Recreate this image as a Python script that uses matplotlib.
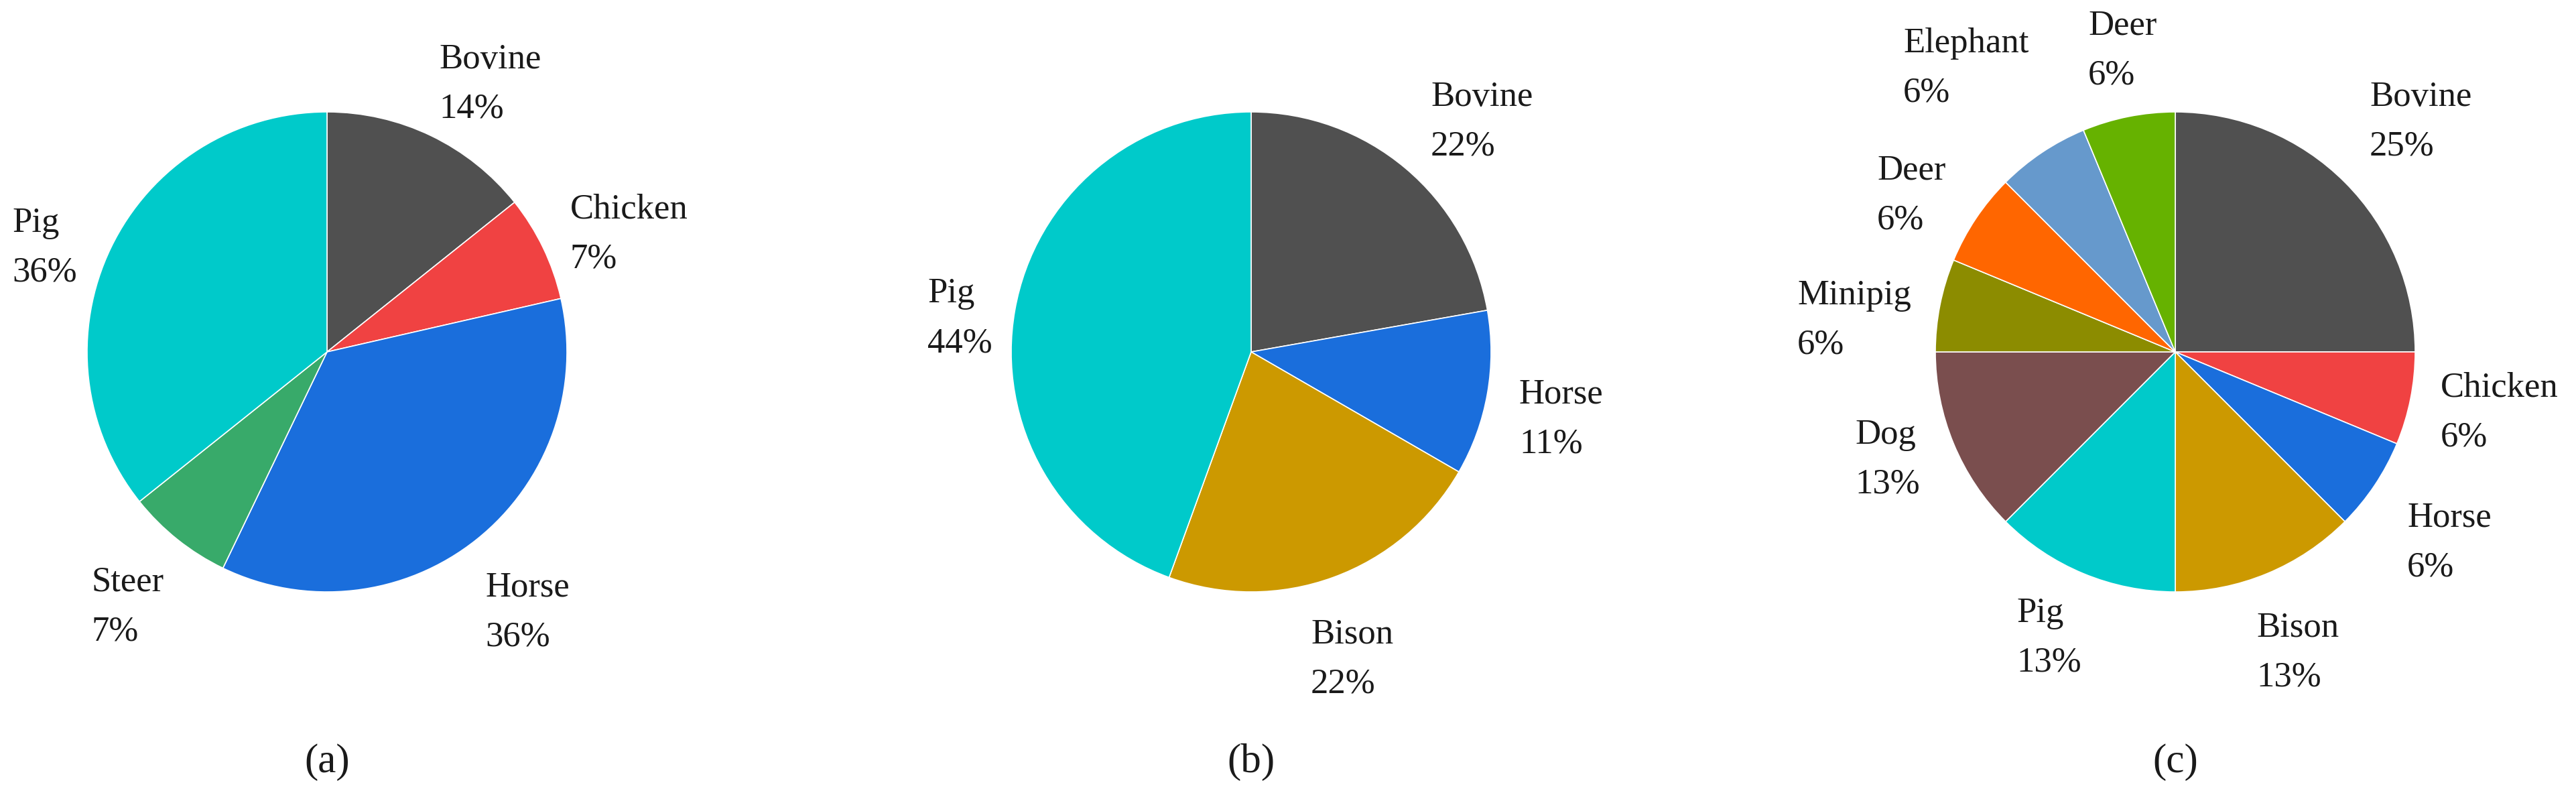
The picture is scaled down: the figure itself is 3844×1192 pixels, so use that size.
import matplotlib
matplotlib.use("Agg")
from matplotlib import pyplot as plt

# figure is laid out in pixels (dpi 100): x to the right, y measured from the top
W, H = 3844, 1192
R = 358

GRAY = "#505050"
RED = "#F04242"
BLUE = "#1A6EDC"
GREEN = "#38AA6A"
CYAN = "#00CACA"
GOLD = "#CC9900"
BROWN = "#7A4E4E"
OLIVE = "#8C8C00"
ORANGE = "#FF6600"
STEEL = "#6699CC"
LIME = "#66B200"

# (a)
a_names = ["Bovine", "Chicken", "Horse", "Steer", "Pig"]
a_counts = [2, 1, 5, 1, 5]
a_pct = [14, 7, 36, 7, 36]
a_colors = [GRAY, RED, BLUE, GREEN, CYAN]

# (b)
b_names = ["Bovine", "Horse", "Bison", "Pig"]
b_counts = [2, 1, 2, 4]
b_pct = [22, 11, 22, 44]
b_colors = [GRAY, BLUE, GOLD, CYAN]

# (c)
c_names = ["Bovine", "Chicken", "Horse", "Bison", "Pig", "Dog",
           "Minipig", "Deer", "Elephant", "Deer"]
c_counts = [4, 1, 1, 2, 2, 2, 1, 1, 1, 1]
c_pct = [25, 6, 6, 13, 13, 13, 6, 6, 6, 6]
c_colors = [GRAY, RED, BLUE, GOLD, CYAN, BROWN, OLIVE, ORANGE, STEEL, LIME]

# layout: pie centres and label anchors (left edge, baseline of the name)
centers = [(488, 525), (1867, 525), (3246, 525)]
a_label_xy = [(655, 102), (851, 326), (724, 890), (137, 881), (18, 346)]
b_label_xy = [(2135, 158), (2267, 601), (1956, 960), (1384, 451)]
c_label_xy = [(3536, 158), (3642, 591), (3592, 785), (3367, 949), (3009, 928),
              (2768, 662), (2682, 454), (2801, 268), (2840, 78), (3116, 51)]
LINE_GAP = 74

panels = [
    (a_names, a_counts, a_pct, a_colors, a_label_xy, "(a)"),
    (b_names, b_counts, b_pct, b_colors, b_label_xy, "(b)"),
    (c_names, c_counts, c_pct, c_colors, c_label_xy, "(c)"),
]

plt.rcParams["font.family"] = ["Liberation Serif", "DejaVu Serif"]

fig = plt.figure(figsize=(W / 100, H / 100), dpi=100)
ax = fig.add_axes([0, 0, 1, 1])

for (names, counts, pct, colors, label_xy, tag), (cx, cy) in zip(panels, centers):
    ax.pie(counts, colors=colors, startangle=90, counterclock=False,
           center=(cx, H - cy), radius=R,
           wedgeprops=dict(edgecolor="white", linewidth=1.2))
    for name, p, (lx, ly) in zip(names, pct, label_xy):
        ax.text(lx, H - ly, name, fontsize=38, color="#1a1a1a",
                ha="left", va="baseline")
        ax.text(lx, H - ly - LINE_GAP, f"{p}%", fontsize=38, color="#1a1a1a",
                ha="left", va="baseline")
    ax.text(cx, H - 1152, tag, fontsize=44, color="#1a1a1a",
            ha="center", va="baseline")

ax.set_xlim(0, W)
ax.set_ylim(0, H)
ax.set_aspect("equal")
ax.axis("off")

fig.savefig("out.png", dpi=100, facecolor="white")
